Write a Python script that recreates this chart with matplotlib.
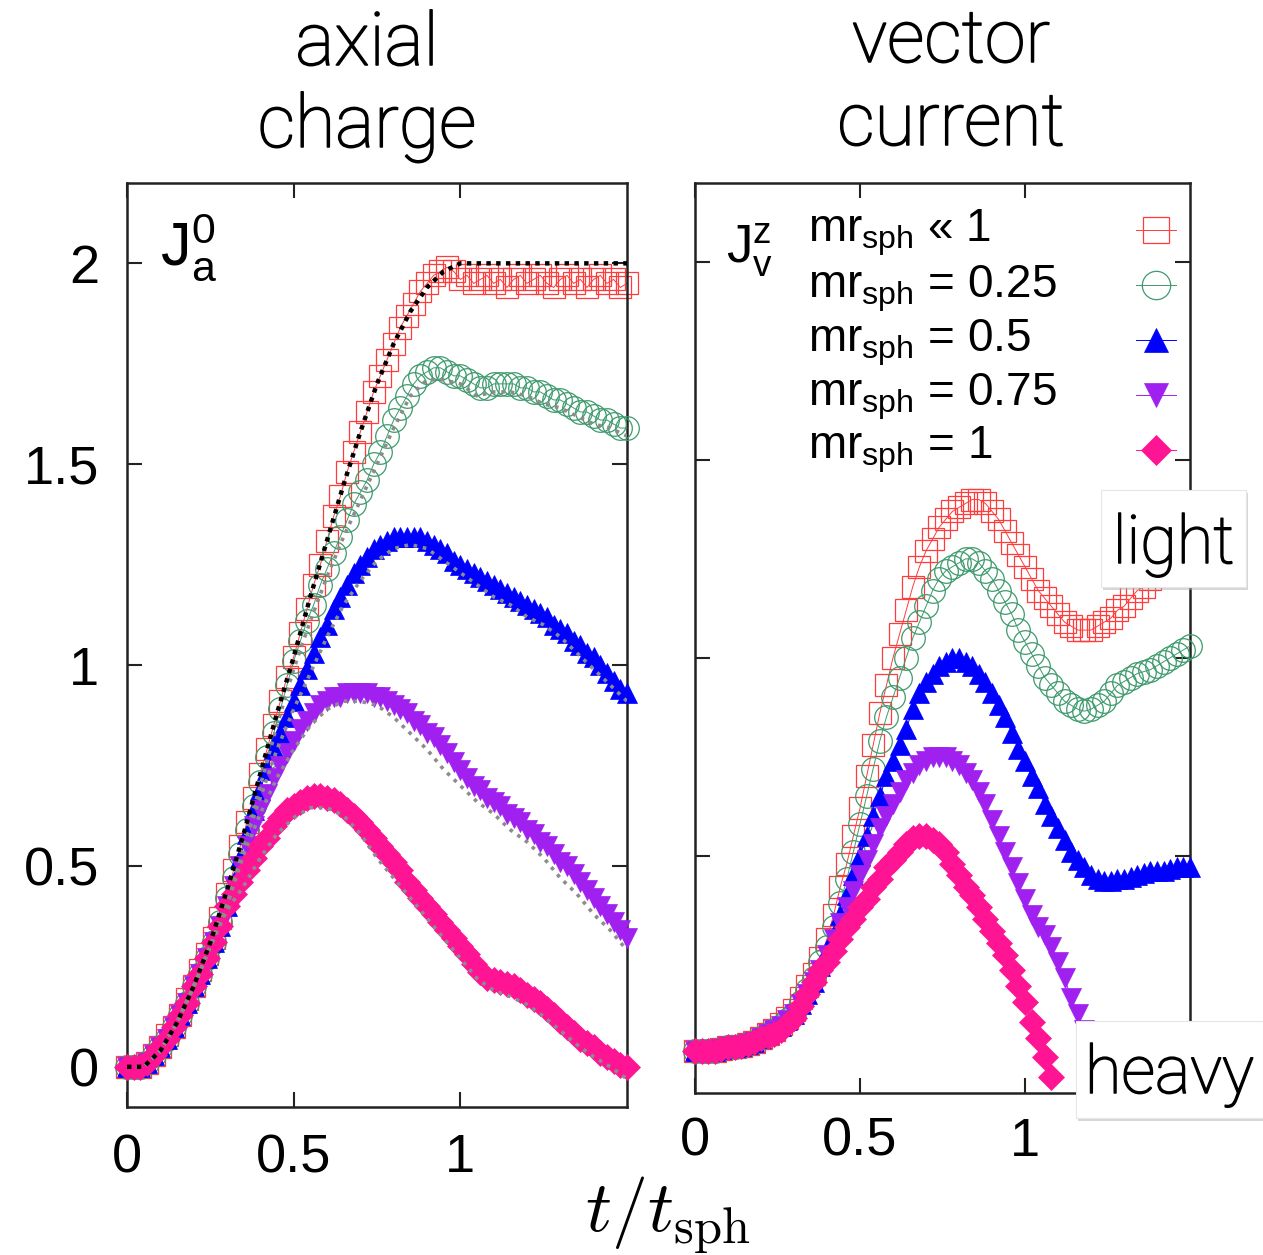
"""Axial charge and vector current vs t/t_sph for several masses (two panels)."""

import matplotlib

matplotlib.use("Agg")
import matplotlib.patheffects as pe
import matplotlib.pyplot as plt
import numpy as np
from matplotlib.patches import Rectangle

plt.rcParams["font.family"] = ["Liberation Sans", "DejaVu Sans"]
plt.rcParams["mathtext.fontset"] = "custom"
plt.rcParams["mathtext.rm"] = "Liberation Sans"
plt.rcParams["mathtext.it"] = "Liberation Sans:italic"
plt.rcParams["mathtext.bf"] = "Liberation Sans:bold"

# time grid of the simulation output (t / t_sph)
t = np.linspace(0.0, 1.5, 76)
t_line = np.linspace(0.0, 1.5, 31)

labels = [r"mr$_{\mathrm{sph}}$ « 1", r"mr$_{\mathrm{sph}}$ = 0.25",
          r"mr$_{\mathrm{sph}}$ = 0.5", r"mr$_{\mathrm{sph}}$ = 0.75",
          r"mr$_{\mathrm{sph}}$ = 1"]

# ---- left panel: axial charge J_a^0 ----
axial_m0 = [0.00, 0.00, 0.00, 0.01, 0.03, 0.05, 0.08, 0.10, 0.13, 0.17,
            0.20, 0.24, 0.28, 0.32, 0.37, 0.43, 0.49, 0.55, 0.61, 0.67,
            0.73, 0.79, 0.85, 0.91, 0.97, 1.02, 1.08, 1.14, 1.20, 1.25,
            1.31, 1.37, 1.42, 1.48, 1.53, 1.58, 1.63, 1.68, 1.72, 1.76,
            1.80, 1.84, 1.87, 1.90, 1.93, 1.95, 1.97, 1.98, 1.99, 1.98,
            1.96, 1.97, 1.95, 1.96, 1.97, 1.95, 1.96, 1.94, 1.96, 1.97,
            1.95, 1.96, 1.97, 1.95, 1.94, 1.96, 1.97, 1.95, 1.96, 1.94,
            1.96, 1.97, 1.95, 1.96, 1.94, 1.95]
axial_m025 = [0.00, 0.00, 0.00, 0.01, 0.03, 0.05, 0.07, 0.10, 0.13, 0.16,
              0.20, 0.23, 0.27, 0.31, 0.36, 0.42, 0.47, 0.53, 0.59, 0.65,
              0.71, 0.77, 0.83, 0.89, 0.95, 1.01, 1.06, 1.11, 1.15, 1.20,
              1.24, 1.28, 1.32, 1.36, 1.40, 1.43, 1.46, 1.50, 1.53, 1.57,
              1.61, 1.64, 1.67, 1.70, 1.72, 1.73, 1.74, 1.74, 1.73, 1.72,
              1.72, 1.71, 1.70, 1.69, 1.69, 1.70, 1.70, 1.70, 1.70, 1.69,
              1.69, 1.68, 1.68, 1.67, 1.66, 1.66, 1.65, 1.64, 1.63, 1.63,
              1.62, 1.61, 1.61, 1.60, 1.59, 1.59]
axial_m05 = [0.00, 0.00, 0.00, 0.01, 0.03, 0.05, 0.07, 0.10, 0.13, 0.16,
             0.20, 0.23, 0.27, 0.31, 0.35, 0.40, 0.46, 0.52, 0.58, 0.64,
             0.69, 0.74, 0.79, 0.83, 0.87, 0.91, 0.95, 0.99, 1.03, 1.07,
             1.10, 1.14, 1.17, 1.20, 1.23, 1.25, 1.27, 1.29, 1.30, 1.31,
             1.32, 1.32, 1.32, 1.32, 1.32, 1.31, 1.30, 1.29, 1.28, 1.26,
             1.25, 1.24, 1.23, 1.22, 1.21, 1.20, 1.19, 1.18, 1.17, 1.16,
             1.15, 1.14, 1.13, 1.12, 1.10, 1.09, 1.08, 1.06, 1.05, 1.03,
             1.02, 1.00, 0.98, 0.96, 0.94, 0.93]
axial_m075 = [0.00, 0.00, 0.00, 0.01, 0.03, 0.05, 0.07, 0.10, 0.13, 0.16,
              0.20, 0.23, 0.27, 0.31, 0.35, 0.40, 0.45, 0.50, 0.55, 0.60,
              0.64, 0.68, 0.72, 0.75, 0.78, 0.81, 0.84, 0.86, 0.88, 0.90,
              0.91, 0.92, 0.92, 0.93, 0.93, 0.93, 0.93, 0.92, 0.92, 0.91,
              0.90, 0.89, 0.88, 0.86, 0.85, 0.83, 0.82, 0.80, 0.78, 0.76,
              0.74, 0.72, 0.70, 0.69, 0.67, 0.66, 0.65, 0.63, 0.62, 0.61,
              0.59, 0.58, 0.56, 0.55, 0.53, 0.51, 0.50, 0.48, 0.46, 0.44,
              0.42, 0.40, 0.38, 0.36, 0.34, 0.32]
axial_m1 = [0.00, 0.00, 0.00, 0.01, 0.03, 0.05, 0.07, 0.10, 0.13, 0.16,
            0.20, 0.23, 0.27, 0.31, 0.35, 0.40, 0.43, 0.46, 0.49, 0.52,
            0.55, 0.57, 0.60, 0.62, 0.64, 0.65, 0.66, 0.67, 0.675, 0.675,
            0.67, 0.665, 0.655, 0.64, 0.625, 0.61, 0.59, 0.57, 0.55, 0.53,
            0.51, 0.49, 0.46, 0.44, 0.42, 0.40, 0.38, 0.36, 0.34, 0.32,
            0.30, 0.28, 0.255, 0.235, 0.22, 0.215, 0.21, 0.205, 0.20, 0.19,
            0.18, 0.17, 0.16, 0.145, 0.13, 0.115, 0.10, 0.085, 0.07, 0.06,
            0.05, 0.035, 0.025, 0.015, 0.005, 0.00]

# reference curves (dotted) on the coarser grid
axial_ref_m0 = [0.00, 0.00, 0.04, 0.11, 0.20, 0.31, 0.44, 0.58, 0.73, 0.88,
                1.02, 1.17, 1.31, 1.45, 1.58, 1.70, 1.80, 1.88, 1.94, 1.98,
                2.00, 2.00, 2.00, 2.00, 2.00, 2.00, 2.00, 2.00, 2.00, 2.00, 2.00]
axial_ref_m025 = [0.00, 0.00, 0.04, 0.11, 0.20, 0.30, 0.42, 0.56, 0.70, 0.85,
                  0.99, 1.11, 1.22, 1.32, 1.41, 1.50, 1.59, 1.67, 1.71, 1.71,
                  1.70, 1.67, 1.68, 1.68, 1.67, 1.65, 1.64, 1.62, 1.60, 1.59, 1.57]
axial_ref_m05 = [0.00, 0.00, 0.04, 0.11, 0.20, 0.30, 0.40, 0.55, 0.67, 0.79,
                 0.89, 0.98, 1.07, 1.15, 1.21, 1.26, 1.29, 1.30, 1.29, 1.26,
                 1.23, 1.20, 1.17, 1.15, 1.12, 1.10, 1.07, 1.03, 0.99, 0.95, 0.91]
axial_ref_m075 = [0.00, 0.00, 0.04, 0.11, 0.20, 0.30, 0.40, 0.53, 0.63, 0.72,
                  0.79, 0.85, 0.89, 0.91, 0.91, 0.90, 0.87, 0.83, 0.79, 0.74,
                  0.70, 0.66, 0.63, 0.59, 0.56, 0.52, 0.47, 0.43, 0.38, 0.34, 0.29]
axial_ref_m1 = [0.00, 0.00, 0.04, 0.11, 0.20, 0.30, 0.39, 0.45, 0.52, 0.58,
                0.62, 0.645, 0.645, 0.625, 0.58, 0.52, 0.47, 0.42, 0.37, 0.32,
                0.27, 0.22, 0.19, 0.175, 0.155, 0.125, 0.09, 0.055, 0.025, 0.00, -0.03]

# ---- right panel: vector current J_v^z ----
vector_m0 = [0.005, 0.005, 0.005, 0.005, 0.01, 0.015, 0.015, 0.02, 0.025, 0.03,
             0.04, 0.05, 0.06, 0.075, 0.09, 0.11, 0.14, 0.17, 0.20, 0.24,
             0.29, 0.35, 0.42, 0.48, 0.55, 0.62, 0.70, 0.78, 0.86, 0.93,
             1.00, 1.06, 1.12, 1.18, 1.23, 1.27, 1.30, 1.33, 1.35, 1.37,
             1.38, 1.39, 1.40, 1.40, 1.39, 1.37, 1.35, 1.32, 1.29, 1.26,
             1.23, 1.20, 1.17, 1.15, 1.13, 1.11, 1.09, 1.08, 1.07, 1.07,
             1.07, 1.08, 1.09, 1.10, 1.12, 1.13, 1.15, 1.17, 1.18, 1.20,
             1.22, 1.23, 1.25, 1.26, 1.27, 1.28]
vector_m025 = [0.005, 0.005, 0.005, 0.005, 0.01, 0.015, 0.015, 0.02, 0.025, 0.03,
               0.04, 0.05, 0.06, 0.07, 0.085, 0.10, 0.13, 0.16, 0.19, 0.23,
               0.27, 0.32, 0.38, 0.44, 0.51, 0.58, 0.65, 0.72, 0.79, 0.85,
               0.90, 0.95, 1.00, 1.05, 1.09, 1.13, 1.17, 1.20, 1.22, 1.23,
               1.24, 1.25, 1.25, 1.24, 1.22, 1.20, 1.17, 1.14, 1.11, 1.07,
               1.04, 1.01, 0.98, 0.95, 0.93, 0.91, 0.89, 0.88, 0.87, 0.865,
               0.87, 0.88, 0.89, 0.91, 0.93, 0.94, 0.95, 0.96, 0.965, 0.97,
               0.98, 0.99, 1.00, 1.01, 1.02, 1.03]
vector_m05 = [0.005, 0.005, 0.005, 0.005, 0.01, 0.015, 0.015, 0.02, 0.025, 0.03,
              0.04, 0.05, 0.06, 0.07, 0.085, 0.10, 0.125, 0.15, 0.18, 0.22,
              0.26, 0.30, 0.35, 0.40, 0.45, 0.50, 0.55, 0.60, 0.65, 0.70,
              0.74, 0.78, 0.82, 0.87, 0.91, 0.94, 0.96, 0.98, 0.99, 1.00,
              1.00, 0.99, 0.98, 0.96, 0.94, 0.91, 0.88, 0.85, 0.81, 0.77,
              0.74, 0.70, 0.67, 0.63, 0.60, 0.57, 0.54, 0.51, 0.49, 0.47,
              0.45, 0.44, 0.435, 0.435, 0.44, 0.44, 0.445, 0.45, 0.455, 0.46,
              0.46, 0.46, 0.465, 0.47, 0.47, 0.47]
vector_m075 = [0.005, 0.005, 0.005, 0.005, 0.01, 0.015, 0.015, 0.02, 0.025, 0.03,
               0.04, 0.05, 0.06, 0.07, 0.085, 0.10, 0.125, 0.15, 0.18, 0.21,
               0.25, 0.29, 0.33, 0.37, 0.41, 0.45, 0.49, 0.53, 0.57, 0.60,
               0.63, 0.66, 0.69, 0.71, 0.73, 0.74, 0.75, 0.75, 0.75, 0.74,
               0.73, 0.71, 0.69, 0.66, 0.63, 0.59, 0.55, 0.51, 0.47, 0.43,
               0.39, 0.35, 0.32, 0.30, 0.27, 0.23, 0.19, 0.14, 0.10, 0.06,
               0.02, -0.02, -0.06]
vector_m1 = [0.005, 0.005, 0.005, 0.005, 0.01, 0.015, 0.015, 0.02, 0.025, 0.03,
             0.04, 0.045, 0.05, 0.06, 0.075, 0.09, 0.12, 0.15, 0.18, 0.21,
             0.23, 0.26, 0.29, 0.32, 0.34, 0.37, 0.39, 0.42, 0.44, 0.47,
             0.49, 0.51, 0.53, 0.545, 0.55, 0.55, 0.54, 0.53, 0.51, 0.48,
             0.45, 0.42, 0.40, 0.37, 0.34, 0.31, 0.28, 0.25, 0.21, 0.17,
             0.13, 0.08, 0.04, -0.01, -0.06]

styles = [
    dict(marker="s", ms=16, mfc="none", mec="#ff3b3b", mew=0.9, color="#ff3b3b", lw=0.7),
    dict(marker="o", ms=17, mfc="none", mec="#3d9a6c", mew=0.9, color="#3d9a6c", lw=0.7),
    dict(marker="^", ms=14, mfc="#0000ff", mec="#0000ff", mew=0.5, color="#0000ff", lw=0.7),
    dict(marker="v", ms=14, mfc="#a020f0", mec="#a020f0", mew=0.5, color="#a020f0", lw=0.7),
    dict(marker="D", ms=13, mfc="#ff1493", mec="#ff1493", mew=0.5, color="#ff1493", lw=0.7),
]

fig = plt.figure(figsize=(12.63, 12.55), dpi=100)
W, H = 1263.0, 1255.0


def px_axes(x0, x1, y0, y1):
    return fig.add_axes([x0 / W, 1 - y1 / H, (x1 - x0) / W, (y1 - y0) / H])


ax1 = px_axes(127, 627, 183, 1107)
ax2 = px_axes(695, 1190, 183, 1093)

for ax in (ax1, ax2):
    ax.set_xlim(0, 1.5)
    ax.set_ylim(-0.1, 2.2)
    ax.set_xticks([0, 0.5, 1])
    ax.set_xticklabels(["0", "0.5", "1"])
    ax.set_yticks([0, 0.5, 1, 1.5, 2])
    ax.tick_params(direction="in", length=11, width=1.5, top=True, right=True,
                   labelsize=39, color="#222222")
    for s in ax.spines.values():
        s.set_linewidth(1.8)
        s.set_color("#222222")

ax1.set_yticklabels(["0", "0.5", "1", "1.5", "2"])
ax1.tick_params(axis="y", pad=20)
ax1.tick_params(axis="x", pad=19)
ax2.tick_params(axis="y", labelleft=False)
ax2.tick_params(axis="x", pad=17)

axial = [axial_m0, axial_m025, axial_m05, axial_m075, axial_m1]
for vals, st, z in zip(axial, styles, range(2, 7)):
    ax1.plot(t[:len(vals)], vals, clip_on=False, zorder=z, **st)

for vals in (axial_ref_m025, axial_ref_m05, axial_ref_m075, axial_ref_m1):
    ax1.plot(t_line, vals, color="#8c8c8c", lw=2.6, ls=(0, (1, 1.6)), zorder=8)
ax1.plot(t_line, axial_ref_m0, color="black", lw=3.2, ls=(0, (1, 1.2)), zorder=9)

vector = [vector_m0, vector_m025, vector_m05, vector_m075, vector_m1]
for vals, st, z in zip(vector, styles, range(2, 7)):
    ax2.plot(t[:len(vals)], vals, clip_on=False, zorder=z, **st)

# panel labels
ax1.text(0.066, 0.911, r"$\mathrm{J}_{\mathrm{a}}^{\mathrm{0}}$", transform=ax1.transAxes,
         fontsize=44, va="baseline", ha="left")
ax2.text(0.062, 0.913, r"$\mathrm{J}_{\mathrm{v}}^{\mathrm{z}}$", transform=ax2.transAxes,
         fontsize=38, va="baseline", ha="left")

# legend drawn by hand: text left, symbol at the right edge
text_y = [0.9352, 0.8747, 0.8143, 0.7560, 0.6978]
key_y = [0.9484, 0.8879, 0.8275, 0.7670, 0.7066]
for lab, st, ty, ky in zip(labels, styles, text_y, key_y):
    ax2.text(0.228, ty, lab, transform=ax2.transAxes, fontsize=33,
             va="baseline", ha="left")
    kst = dict(st)
    kst["ms"] = st["ms"] * 1.2
    kst["markevery"] = [1]
    ax2.plot([0.891, 0.9313, 0.972], [ky, ky, ky], transform=ax2.transAxes,
             clip_on=False, zorder=10, **kst)

# titles (light face, thickened a little)
thicken = [pe.withStroke(linewidth=1.1, foreground="black")]
title_kw = dict(fontsize=53, ha="center", va="baseline", family=["Roboto", "Liberation Sans"],
                fontweight="light", path_effects=thicken)
fig.text(367 / W, 1 - 65 / H, "axial", **title_kw)
fig.text(367 / W, 1 - 147 / H, "charge", **title_kw)
fig.text(951 / W, 1 - 62 / H, "vector", **title_kw)
fig.text(951 / W, 1 - 145 / H, "current", **title_kw)

fig.text(668 / W, 1 - 1232 / H, r"$t/t_{\rm sph}$", fontsize=52, ha="center",
         va="baseline", math_fontfamily="cm")

# annotation boxes with a soft shadow
for (x0, x1, y0, y1, word, base) in [(1101, 1246, 490, 587, "light", 563),
                                     (1076, 1263, 1021, 1118, "heavy", 1093)]:
    shadow = Rectangle((x0 / W + 2 / W, 1 - y1 / H - 3 / H), (x1 - x0) / W, (y1 - y0) / H,
                       transform=fig.transFigure, facecolor="#b0b0b0", alpha=0.5,
                       edgecolor="none", zorder=20)
    box = Rectangle((x0 / W, 1 - y1 / H), (x1 - x0) / W, (y1 - y0) / H,
                    transform=fig.transFigure, facecolor="white", edgecolor="#e6e6e6",
                    lw=0.8, zorder=21)
    fig.add_artist(shadow)
    fig.add_artist(box)
    fig.text((x0 + x1) / 2 / W, 1 - base / H, word, zorder=22, **dict(title_kw, fontsize=48))

fig.savefig("out.png", dpi=100)
